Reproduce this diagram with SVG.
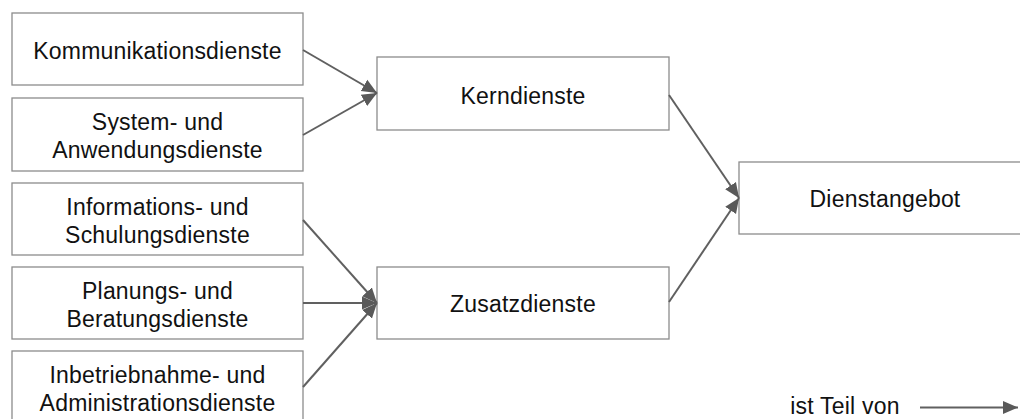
<svg xmlns="http://www.w3.org/2000/svg" width="1020" height="419" viewBox="0 0 1020 419">
<style>
.box{fill:#fff;stroke:#8c8c8c;stroke-width:1.3}
.t{font-family:"Liberation Sans",Arial,Helvetica,sans-serif;font-size:23px;letter-spacing:0.2px;fill:#111;text-anchor:middle}
.c{fill:none;stroke:#606060;stroke-width:2}
</style>
<defs>
<marker id="ah" markerUnits="userSpaceOnUse" markerWidth="16" markerHeight="16" viewBox="0 0 16 16" refX="15" refY="8" orient="auto">
<path d="M0,1.5 L15,8 L0,14.5 Z" fill="#595959"/>
</marker>
</defs>
<rect width="1020" height="419" fill="#fff"/>
<g id="n-kommunikation"><rect class="box" x="12" y="13" width="291" height="72"/><text class="t" x="157.5" y="59">Kommunikationsdienste</text></g>
<g id="n-system"><rect class="box" x="12" y="98" width="291" height="73"/><text class="t" x="157.5" y="130">System- und</text><text class="t" x="157.5" y="158">Anwendungsdienste</text></g>
<g id="n-information"><rect class="box" x="12" y="183" width="291" height="72"/><text class="t" x="157.5" y="215">Informations- und</text><text class="t" x="157.5" y="243">Schulungsdienste</text></g>
<g id="n-planung"><rect class="box" x="12" y="267" width="291" height="72"/><text class="t" x="157.5" y="299">Planungs- und</text><text class="t" x="157.5" y="327">Beratungsdienste</text></g>
<g id="n-inbetrieb"><rect class="box" x="12" y="351" width="291" height="73"/><text class="t" x="157.5" y="383">Inbetriebnahme- und</text><text class="t" x="157.5" y="411">Administrationsdienste</text></g>
<g id="n-kern"><rect class="box" x="377" y="57" width="292" height="73"/><text class="t" x="523" y="104">Kerndienste</text></g>
<g id="n-zusatz"><rect class="box" x="377" y="267" width="292" height="72"/><text class="t" x="523" y="312">Zusatzdienste</text></g>
<g id="n-dienstangebot"><rect class="box" x="739" y="162" width="290" height="72"/><text class="t" x="885" y="207">Dienstangebot</text></g>
<g id="connectors">
<line class="c" x1="303" y1="50" x2="377" y2="93" marker-end="url(#ah)"/>
<line class="c" x1="303" y1="135" x2="377" y2="93" marker-end="url(#ah)"/>
<line class="c" x1="303" y1="220" x2="377" y2="303" marker-end="url(#ah)"/>
<line class="c" x1="303" y1="303" x2="377" y2="303" marker-end="url(#ah)"/>
<line class="c" x1="303" y1="387" x2="377" y2="303" marker-end="url(#ah)"/>
<line class="c" x1="669" y1="95" x2="739" y2="198" marker-end="url(#ah)"/>
<line class="c" x1="669" y1="302" x2="739" y2="198" marker-end="url(#ah)"/>
</g>
<g id="legend">
<text class="t" x="845" y="414">ist Teil von</text>
<line class="c" x1="920" y1="407.5" x2="1018" y2="407.5" marker-end="url(#ah)"/>
</g>
</svg>
